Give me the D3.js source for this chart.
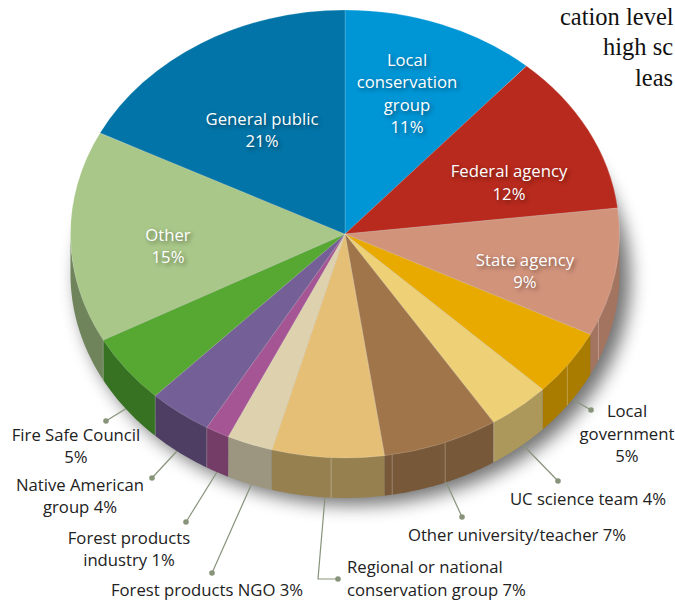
<!DOCTYPE html>
<html>
<head>
<meta charset="utf-8">
<script src="https://d3js.org/d3.v7.min.js"></script>
<style>
html, body { margin: 0; padding: 0; background: #fff; }
svg { display: block; }
text { font-family: "Open Sans", "Noto Sans", sans-serif; }
.inside { fill: #fff; text-shadow: 2px 2px 4px rgba(0,0,0,.45); }
.outside { fill: #222; }
.body { font-family: "Liberation Serif", serif; fill: #111; }
</style>
</head>
<body>
<svg id="chart" width="675" height="600"></svg>
<script>
var categories = ["Local conservation group", "Federal agency", "State agency", "Local government",
    "UC science team", "Other university/teacher", "Regional or national conservation group",
    "Forest products NGO", "Forest products industry", "Native American group",
    "Fire Safe Council", "Other", "General public"];
// printed percentages
var percents = [11, 12, 9, 5, 4, 7, 7, 3, 1, 4, 5, 15, 21];
// size of each wedge as drawn in the picture (the printed numbers add up to 104)
var shares = [11.5, 11.65, 9.25, 4.8, 3.7, 6.8, 6.6, 2.7, 1.4, 3.75, 5.0, 15.3, 17.55];
var topColors = ["#0095d5", "#b82a1d", "#d2937b", "#e9aa00", "#eed077", "#a0754a", "#e5bf75",
    "#ded1ae", "#a65594", "#745f97", "#57a733", "#a8c788", "#0274a7"];
var wallColors = ["#0095d5", "#b82a1d", "#a3745f", "#a97c00", "#ac985a", "#775838", "#968050",
    "#9c9580", "#743d67", "#4f3e63", "#367222", "#6f845b", "#0274a7"];
// label text, one entry per line
var labelLines = [
    ["Local", "conservation", "group", "11%"],
    ["Federal agency", "12%"],
    ["State agency", "9%"],
    ["Local", "government", "5%"],
    ["UC science team 4%"],
    ["Other university/teacher 7%"],
    ["Regional or national", "conservation group 7%"],
    ["Forest products NGO 3%"],
    ["Forest products", "industry 1%"],
    ["Native American", "group 4%"],
    ["Fire Safe Council", "5%"],
    ["Other", "15%"],
    ["General public", "21%"]];
// thin light seams on the side wall, degrees clockwise from the top
var seamAngles = [112.6, 125.9, 147.2, 158.6, 170.1, 182.9];
var bodyText = ["cation level", "high sc", "leas"];

// layout, same order as categories: x, first baseline, line step, anchor
var labelPos = [
    [407, 66, 22.4, "middle"], [509, 177, 23, "middle"], [525, 266, 22, "middle"],
    [627, 417, 22.5, "middle"], [588, 505, 0, "middle"], [517, 541, 0, "middle"],
    [347, 573, 22.5, "start"], [207, 595.5, 0, "middle"], [129, 544, 22, "middle"],
    [80, 491, 22, "middle"], [76, 441, 22, "middle"], [168, 241, 22, "middle"],
    [262, 125, 22, "middle"]];
// leader lines: dot first, then towards the pie
var leaders = {
    3: [[591, 410], [572, 399]],
    4: [[558, 481], [522, 444]],
    5: [[462, 517], [446, 482]],
    6: [[338, 579], [318, 579], [325, 497]],
    7: [[212, 573], [252, 483]],
    8: [[186, 522], [217, 472]],
    9: [[152, 478], [177, 451]],
    10: [[106, 421], [127, 408]]
};

var cx = 345, cy = 234, rx = 274.5, ry = 224, depth = 40;
var svg = d3.select("#chart");

var defs = svg.append("defs");
defs.append("filter").attr("id", "blur")
    .attr("x", "-20%").attr("y", "-20%").attr("width", "140%").attr("height", "140%")
    .append("feGaussianBlur").attr("stdDeviation", 9);

var pie = d3.pie().sort(null).value(function(d){ return d; });
var slices = pie(shares);
slices.forEach(function(s, i){ s.idx = i; });

function edge(a, dy) {
    return [cx + rx * Math.sin(a), cy - ry * Math.cos(a) + dy];
}

// soft shadow below the pie
svg.append("ellipse")
    .attr("cx", cx + 9).attr("cy", cy + depth + 5)
    .attr("rx", rx + 2).attr("ry", ry + 2)
    .attr("fill", "#000").attr("opacity", 0.55)
    .attr("filter", "url(#blur)");

// leader lines go under the pie wall
var leaderG = svg.append("g");
Object.keys(leaders).forEach(function(k){
    var pts = leaders[k];
    leaderG.append("path")
        .attr("d", d3.line()(pts))
        .attr("fill", "none").attr("stroke", "#87947a").attr("stroke-width", 1.2);
    leaderG.append("circle")
        .attr("cx", pts[0][0]).attr("cy", pts[0][1]).attr("r", 2.8)
        .attr("fill", "#87947a");
});

// side wall, only the front half is visible
var wallG = svg.append("g");
var wallLine = d3.line();
slices.forEach(function(s){
    var a0 = Math.max(s.startAngle, Math.PI / 2), a1 = Math.min(s.endAngle, Math.PI * 1.5);
    if (a1 <= a0) return;
    var n = Math.ceil((a1 - a0) / 0.01), upper = [], lower = [];
    d3.range(n + 1).forEach(function(j){
        var a = a0 + (a1 - a0) * j / n;
        upper.push(edge(a, -1));
        lower.push(edge(a, depth));
    });
    wallG.append("path")
        .attr("d", wallLine(upper.concat(lower.reverse())) + "Z")
        .attr("fill", wallColors[s.idx]);
});
seamAngles.forEach(function(deg){
    var a = deg * Math.PI / 180;
    wallG.append("path")
        .attr("d", d3.line()([edge(a, 0), edge(a, depth)]))
        .attr("stroke", "#fff").attr("stroke-opacity", 0.35).attr("stroke-width", 0.8);
});
// light seams where dark wedges meet
[slices[9].startAngle, slices[9].endAngle, slices[11].startAngle].forEach(function(a){
    wallG.append("path")
        .attr("d", d3.line()([edge(a, 0), edge(a, depth)]))
        .attr("stroke", "#fff").attr("stroke-opacity", 0.3).attr("stroke-width", 0.7);
});

// top face: circular arcs squashed to an ellipse
var arc = d3.arc().innerRadius(0).outerRadius(rx);
svg.append("g")
    .attr("transform", "translate(" + cx + "," + cy + ") scale(1," + (ry / rx) + ")")
    .selectAll("path")
    .data(slices)
    .enter()
    .append("path")
    .attr("d", arc)
    .attr("fill", function(d){ return topColors[d.idx]; })
    .attr("stroke", "#fff").attr("stroke-opacity", 0.3)
    .attr("stroke-width", 0.6)
    .attr("vector-effect", "non-scaling-stroke");

// labels
var insideSet = [0, 1, 2, 11, 12];
labelLines.forEach(function(lines, i){
    var p = labelPos[i];
    lines.forEach(function(line, j){
        svg.append("text")
            .attr("class", insideSet.indexOf(i) >= 0 ? "inside" : "outside")
            .attr("x", p[0]).attr("y", p[1] + j * p[2])
            .attr("text-anchor", p[3])
            .attr("font-size", 16.7)
            .text(line);
    });
});

// running text of the page, cut by the picture edge
var bodyX = [560, 603, 635], bodyY = [25, 55, 86];
bodyText.forEach(function(t, i){
    svg.append("text").attr("class", "body")
        .attr("x", bodyX[i]).attr("y", bodyY[i])
        .attr("font-size", 24.5)
        .text(t);
});
</script>
</body>
</html>
